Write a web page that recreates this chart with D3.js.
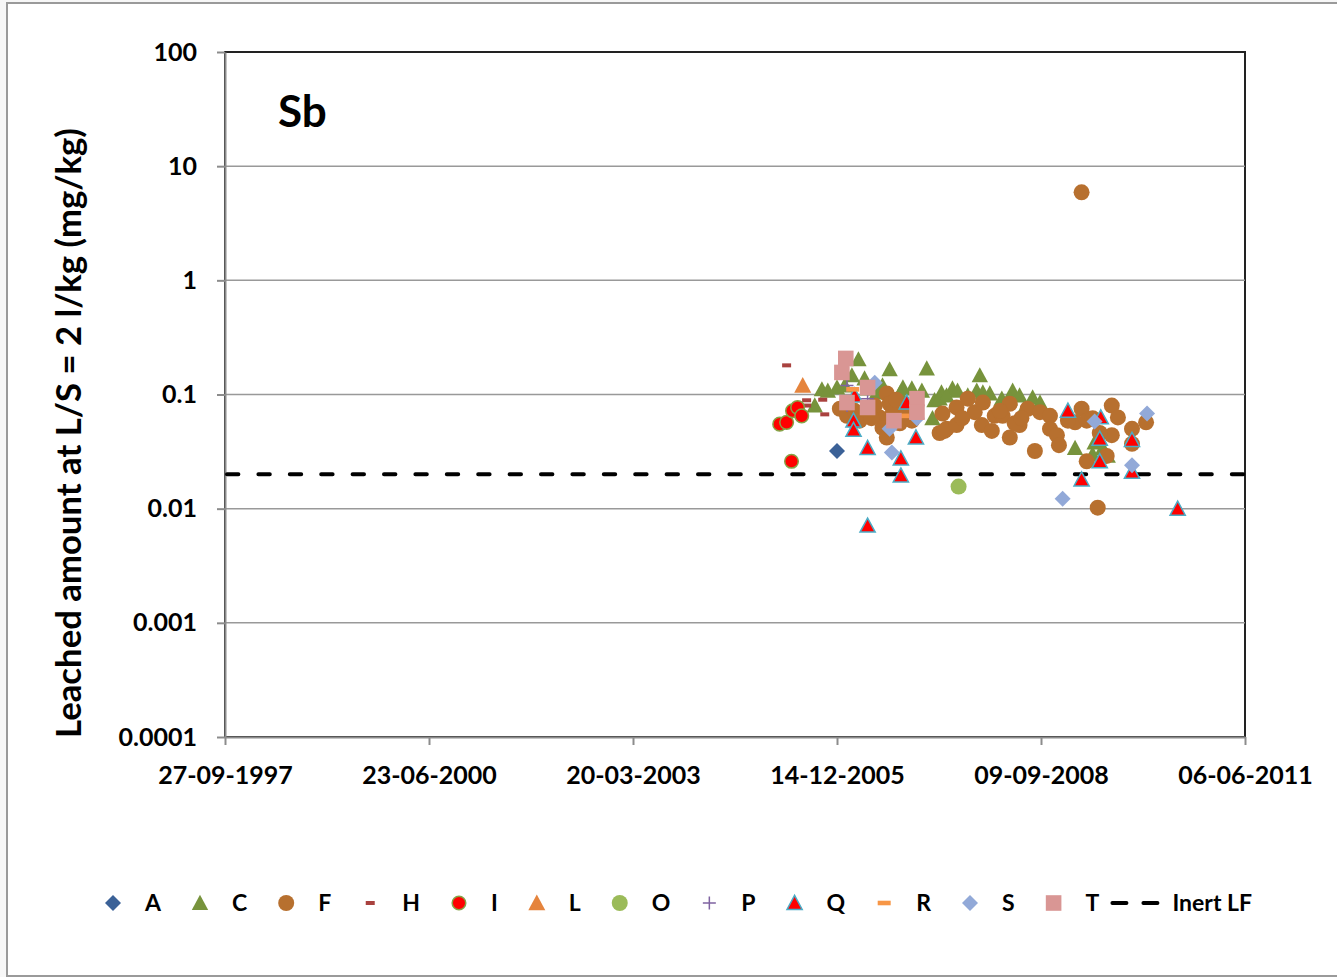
<!DOCTYPE html>
<html>
<head>
<meta charset="utf-8">
<script src="https://cdn.jsdelivr.net/npm/d3@7"></script>
<style>
  body { margin: 0; background: #f7f7f7; }
  text { font-family: Lato, "Open Sans", sans-serif; font-weight: bold; fill: #000; }
</style>
</head>
<body>
<div id="chart"></div>
<script>
// tick labels
const xTickLabels = ["27-09-1997", "23-06-2000", "20-03-2003", "14-12-2005", "09-09-2008", "06-06-2011"];
const yTickValues = [0.0001, 0.001, 0.01, 0.1, 1, 10, 100];
const yTickLabels = ["0.0001", "0.001", "0.01", "0.1", "1", "10", "100"];
const inertLF = 0.02;

// leached amounts per landfill, [date, mg/kg]
const A = [["2005-12-14", 0.032]];
const C = [
  ["2006-03-29", 0.203], ["2006-08-29", 0.166], ["2007-02-27", 0.169], ["2005-10-01", 0.111],
  ["2005-08-27", 0.080], ["2005-10-30", 0.108], ["2005-12-14", 0.115], ["2006-02-25", 0.147],
  ["2006-04-28", 0.138], ["2006-06-26", 0.104], ["2006-11-02", 0.115], ["2006-12-16", 0.113],
  ["2007-02-03", 0.108], ["2007-04-06", 0.089], ["2007-03-27", 0.062], ["2007-05-10", 0.104],
  ["2007-07-03", 0.113], ["2007-05-01", 0.092], ["2007-07-28", 0.108], ["2007-11-14", 0.147],
  ["2007-10-30", 0.108], ["2007-11-29", 0.104], ["2008-01-02", 0.102], ["2008-03-01", 0.092],
  ["2008-04-23", 0.108], ["2008-05-27", 0.098], ["2008-07-30", 0.094], ["2008-09-04", 0.085],
  ["2008-06-21", 0.077], ["2009-02-23", 0.034], ["2009-05-30", 0.038], ["2009-07-09", 0.034],
  ["2009-08-02", 0.029], ["2009-05-20", 0.030], ["2006-01-21", 0.120], ["2006-05-13", 0.113],
  ["2006-10-18", 0.102], ["2007-06-04", 0.098], ["2007-09-16", 0.098], ["2008-04-09", 0.092],
  ["2006-07-25", 0.120]
];
const F = [
  ["2005-12-28", 0.075], ["2006-02-01", 0.065], ["2006-04-04", 0.059], ["2006-08-15", 0.102],
  ["2006-08-29", 0.083], ["2006-07-11", 0.063], ["2006-07-25", 0.051], ["2006-08-15", 0.042],
  ["2006-10-18", 0.056], ["2006-09-14", 0.070], ["2007-05-01", 0.046], ["2007-06-04", 0.050],
  ["2007-07-23", 0.077], ["2007-05-25", 0.048], ["2007-07-23", 0.054], ["2007-09-16", 0.092],
  ["2007-10-20", 0.070], ["2007-11-24", 0.054], ["2008-01-12", 0.048], ["2008-01-26", 0.065],
  ["2008-03-05", 0.065], ["2008-04-09", 0.083], ["2008-04-09", 0.042], ["2008-05-27", 0.054],
  ["2008-07-06", 0.075], ["2008-08-10", 0.032], ["2008-09-04", 0.070], ["2008-10-23", 0.065],
  ["2008-10-23", 0.050], ["2008-11-26", 0.044], ["2008-12-06", 0.036], ["2009-03-27", 0.075],
  ["2009-02-23", 0.057], ["2009-04-21", 0.059], ["2009-04-21", 0.026], ["2009-07-28", 0.029],
  ["2009-08-22", 0.044], ["2009-08-22", 0.080], ["2009-09-21", 0.063], ["2009-11-29", 0.050],
  ["2009-11-29", 0.037], ["2010-02-06", 0.057], ["2009-06-14", 0.0102], ["2007-11-29", 0.085],
  ["2008-02-20", 0.072], ["2008-05-03", 0.056], ["2007-05-15", 0.068], ["2009-03-27", 5.9],
  ["2006-03-10", 0.072], ["2006-05-13", 0.072], ["2006-06-17", 0.080], ["2006-11-21", 0.072],
  ["2006-12-16", 0.059], ["2009-06-24", 0.046], ["2009-05-20", 0.062], ["2009-01-19", 0.059],
  ["2006-06-01", 0.062], ["2006-09-30", 0.090], ["2007-08-20", 0.062], ["2008-06-05", 0.062]
];
const Hs = [["2005-04-11", 0.180], ["2005-07-18", 0.089], ["2005-07-18", 0.080], ["2005-10-05", 0.090], ["2005-10-15", 0.067]];
const I = [["2005-03-08", 0.055], ["2005-04-11", 0.057], ["2005-05-10", 0.072], ["2005-06-04", 0.077], ["2005-06-24", 0.065], ["2005-05-05", 0.026]];
const L = [["2005-06-29", 0.120]];
const O = [["2007-08-02", 0.0156]];
const P = [["2006-02-01", 0.120], ["2006-02-01", 0.080], ["2006-05-13", 0.092]];
const Q = [
  ["2006-03-10", 0.098], ["2006-03-05", 0.059], ["2006-03-05", 0.049], ["2006-05-13", 0.034],
  ["2006-05-13", 0.0071], ["2006-10-23", 0.0275], ["2006-10-23", 0.0195], ["2007-01-05", 0.042],
  ["2006-11-21", 0.085], ["2009-01-19", 0.072], ["2009-06-29", 0.063], ["2009-06-24", 0.041],
  ["2009-06-24", 0.026], ["2009-03-27", 0.018], ["2009-11-29", 0.040], ["2009-11-29", 0.021],
  ["2010-07-11", 0.010]
];
const R = [["2006-03-01", 0.111], ["2006-11-02", 0.065]];
const S = [
  ["2006-06-17", 0.127], ["2006-09-09", 0.031], ["2006-08-29", 0.050], ["2007-01-10", 0.062],
  ["2008-12-24", 0.0122], ["2009-05-30", 0.058], ["2009-11-29", 0.024], ["2010-02-11", 0.068]
];
const T = [
  ["2006-01-26", 0.207], ["2006-01-07", 0.156], ["2006-05-13", 0.115], ["2006-02-01", 0.085],
  ["2006-05-13", 0.077], ["2006-09-19", 0.059], ["2007-01-10", 0.092], ["2007-01-10", 0.070]
];

const seriesNames = ["A", "C", "F", "H", "I", "L", "O", "P", "Q", "R", "S", "T"];
const seriesData = [A, C, F, Hs, I, L, O, P, Q, R, S, T];

const markerStyle = {
  A: {shape: "diamond", r: 8, fill: "#3b6197"},
  C: {shape: "triangle", r: 8.2, fill: "#77933c"},
  F: {shape: "circle", r: 8, fill: "#b7702f"},
  H: {shape: "dash", r: 4.5, h: 2, fill: "#a9423f"},
  I: {shape: "circle", r: 6.8, fill: "#ff0000", stroke: "#86a347", sw: 1.5},
  L: {shape: "triangle", r: 8.5, fill: "#e5843d"},
  O: {shape: "circle", r: 8, fill: "#9bbb59"},
  P: {shape: "cross", r: 6.5, fill: "none", stroke: "#7f63a1", sw: 1.5},
  Q: {shape: "triangle", r: 7.6, fill: "#ff0000", stroke: "#4bacc6", sw: 1.5},
  R: {shape: "dash", r: 6.5, h: 2.3, fill: "#f79646"},
  S: {shape: "diamond", r: 8, fill: "#92a9d8"},
  T: {shape: "square", r: 7.8, fill: "#d99694"}
};

function shapePath(st) {
  const p = d3.path(), r = st.r;
  if (st.shape == "circle") { p.arc(0, 0, r, 0, 2 * Math.PI); }
  else if (st.shape == "triangle") { p.moveTo(0, -r); p.lineTo(r, r * 0.85); p.lineTo(-r, r * 0.85); p.closePath(); }
  else if (st.shape == "diamond") { p.moveTo(0, -r); p.lineTo(r, 0); p.lineTo(0, r); p.lineTo(-r, 0); p.closePath(); }
  else if (st.shape == "square") { p.rect(-r, -r, 2 * r, 2 * r); }
  else if (st.shape == "dash") { p.rect(-r, -st.h, 2 * r, 2 * st.h); }
  else if (st.shape == "cross") { p.moveTo(-r, 0); p.lineTo(r, 0); p.moveTo(0, -r); p.lineTo(0, r); }
  return p.toString();
}

const width = 1337, height = 977;
const parseDate = d3.utcParse("%Y-%m-%d");
const parseTick = d3.utcParse("%d-%m-%Y");
const xTickDates = xTickLabels.map(parseTick);

var svg = d3.select("#chart").append("svg")
  .attr("width", width).attr("height", height);

// chart area frame
svg.append("rect")
  .attr("x", 7).attr("y", 3).attr("width", 1345).attr("height", 973)
  .style("fill", "white").style("stroke", "#9a9a9a").style("stroke-width", 2);

var x = d3.scaleUtc().domain([xTickDates[0], xTickDates[xTickDates.length - 1]]).range([225, 1245]);
var y = d3.scaleLog().domain([0.0001, 100]).range([737, 52]);

// plot area border
svg.append("rect")
  .attr("x", 225).attr("y", 52).attr("width", 1020).attr("height", 685)
  .style("fill", "none").style("stroke", "#222").style("stroke-width", 2);

// gridlines
svg.selectAll(".grid")
  .data(yTickValues.slice(1, -1))
  .enter().append("line")
  .attr("x1", 225).attr("x2", 1245)
  .attr("y1", d => y(d)).attr("y2", d => y(d))
  .style("stroke", "#999").style("stroke-width", 1.5);

// axes
var yAxis = svg.append("g").attr("transform", "translate(225,0)")
  .call(d3.axisLeft(y).tickValues(yTickValues).tickFormat((d, i) => yTickLabels[i]).tickSize(8).tickSizeOuter(0).tickPadding(20));
var xAxis = svg.append("g").attr("transform", "translate(0,737)")
  .call(d3.axisBottom(x).tickValues(xTickDates).tickFormat((d, i) => xTickLabels[i]).tickSize(8).tickSizeOuter(0).tickPadding(21));
[yAxis, xAxis].forEach(ax => {
  ax.select(".domain").style("stroke", "#8c8c8c").style("stroke-width", 2);
  ax.selectAll(".tick line").style("stroke", "#8c8c8c").style("stroke-width", 2);
  ax.selectAll("text").attr("font-size", "25px").style("font-family", "Lato").style("font-weight", "bold").style("fill", "#000");
});

// inert landfill limit
svg.append("line")
  .attr("x1", 227).attr("x2", 1245)
  .attr("y1", y(inertLF)).attr("y2", y(inertLF))
  .style("stroke", "#000").style("stroke-width", 4)
  .style("stroke-linecap", "round").style("stroke-dasharray", "11.4,20");

// markers
seriesNames.forEach((name, k) => {
  const st = markerStyle[name];
  svg.append("g").selectAll("path")
    .data(seriesData[k])
    .enter().append("path")
    .attr("d", shapePath(st))
    .attr("transform", d => "translate(" + x(parseDate(d[0])) + "," + y(d[1]) + ")")
    .style("fill", st.fill)
    .style("stroke", st.stroke || "none")
    .style("stroke-width", st.sw || 0);
});

// element label
svg.append("text").attr("x", 278).attr("y", 127).attr("font-size", "44px").text("Sb");

// y title
var yt = svg.append("text")
  .attr("transform", "translate(81,433) rotate(-90)")
  .attr("text-anchor", "middle")
  .attr("font-size", "30px")
  .text("Leached amount at L/S = 2 l/kg (mg/kg)");
var len = yt.node().getComputedTextLength();
yt.attr("font-size", (30 * 610 / len) + "px");

// legend
var lx = 113, ly = 903;
var legend = svg.append("g");
seriesNames.forEach(name => {
  const st = markerStyle[name];
  legend.append("path")
    .attr("d", shapePath(st))
    .attr("transform", "translate(" + lx + "," + ly + ")")
    .style("fill", st.fill).style("stroke", st.stroke || "none").style("stroke-width", st.sw || 0);
  var t = legend.append("text").attr("x", lx + 32).attr("y", ly + 8).attr("font-size", "23px").text(name);
  lx = lx + 32 + t.node().getComputedTextLength() + 39;
});
lx = lx - 39 + 11;
legend.append("line")
  .attr("x1", lx + 2).attr("x2", lx + 50)
  .attr("y1", ly).attr("y2", ly)
  .style("stroke", "#000").style("stroke-width", 4)
  .style("stroke-linecap", "round").style("stroke-dasharray", "14,17");
legend.append("text").attr("x", lx + 62).attr("y", ly + 8).attr("font-size", "23px").text("Inert LF");
</script>
</body>
</html>
